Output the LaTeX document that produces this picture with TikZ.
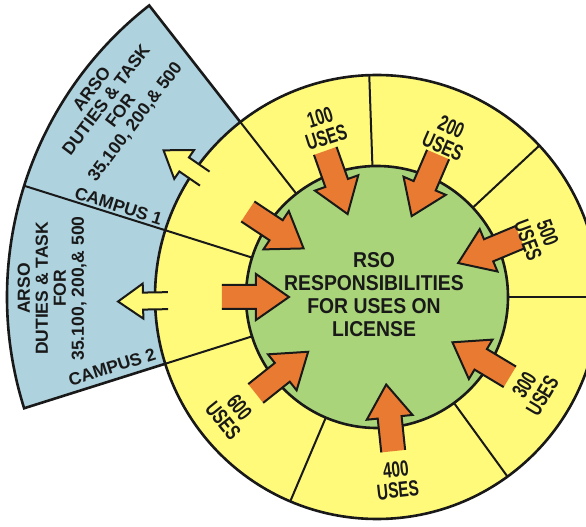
\documentclass[tikz,border=0pt]{standalone}
\usepackage{fontspec}
\setmainfont{Liberation Sans}
\newfontfamily\usesfont[FakeStretch=0.7]{Liberation Sans}
\newfontfamily\rsofont[FakeStretch=0.9]{Liberation Sans}
\definecolor{arsoblue}{RGB}{174,210,222}
\definecolor{ringyellow}{RGB}{255,250,122}
\definecolor{rsogreen}{RGB}{170,212,122}
\definecolor{usesorange}{RGB}{232,122,50}
\definecolor{inkblack}{RGB}{25,25,25}
\begin{document}
\begin{tikzpicture}[x=1pt,y=1pt,
    edge/.style={draw=inkblack, line width=2.6pt},
    divider/.style={draw=inkblack, line width=2pt},
    arrowline/.style={draw=inkblack, line width=2pt, line join=miter},
    useslabel/.style={font=\usesfont\fontsize{22}{21}\selectfont\bfseries, align=center, text=inkblack, inner sep=0pt},
    arsolabel/.style={font=\fontsize{17.5}{18}\selectfont\bfseries, align=center, text=inkblack, inner sep=0pt},
    campuslabel/.style={font=\fontsize{17.5}{17.5}\selectfont\bfseries, text=inkblack, inner sep=0pt},
    rsolabel/.style={font=\rsofont\fontsize{21.5}{23}\selectfont\bfseries, align=center, text=inkblack}]
  \useasboundingbox (-377,-230) rectangle (209,297);
  \clip (-377,-230) rectangle (209,297);

  % campus sectors
  \filldraw[fill=arsoblue, edge] (0,0) -- (128:370) arc[start angle=128, end angle=197.5, radius=370] -- cycle;
  \draw[divider] (0,0) -- (162.5:370);

  % ring of uses
  \filldraw[fill=ringyellow, edge] (0,0) circle[radius=222];
  \foreach \ang in {128,92,43,0,-54,-113,-162.5,162.5}
    \draw[divider] (\ang:131) -- (\ang:222);
  \filldraw[fill=rsogreen, edge] (0,0) circle[radius=131];

  % arrows out to the campuses
  \foreach \ang in {145.5,181}
    \filldraw[fill=ringyellow, arrowline, rotate=\ang]
      (209,8.5) -- (234,8.5) -- (234,17.5) -- (259,0) -- (234,-17.5) -- (234,-8.5) -- (209,-8.5);

  % arrows in to the RSO
  \foreach \ang in {109.5,66.8,22.7,-31,-84,218.5,180,146.5}
    \filldraw[fill=usesorange, arrowline, rotate=\ang]
      (155,12) -- (121,12) -- (121,23) -- (88,0) -- (121,-23) -- (121,-12) -- (155,-12);

  % labels
  \node[useslabel, rotate=17.6] (uses100) at (107.6:178) {100\\USES};
  \node[useslabel, rotate=-23.6] (uses200) at (66.4:175) {200\\USES};
  \node[useslabel, rotate=-69.4] (uses500) at (20.6:172) {500\\USES};
  \node[useslabel, rotate=59.2] (uses300) at (-30.8:182) {300\\USES};
  \node[useslabel, rotate=6.2] (uses400) at (-83.8:184) {400\\USES};
  \node[useslabel, rotate=-51.2] (uses600) at (218.8:187) {600\\USES};

  \node[arsolabel, rotate=53] (arso1) at (144:325) {ARSO\\DUTIES \& TASK\\FOR\\35.100, 200,\& 500};
  \node[arsolabel, rotate=90] (arso2) at (178.5:325) {ARSO\\DUTIES \& TASK\\FOR\\35.100, 200,\& 500};
  \node[campuslabel, rotate=-17.5] (campus1) at (160.6:274) {CAMPUS 1};
  \node[campuslabel, rotate=17.5] (campus2) at (194.8:274) {CAMPUS 2};

  \node[rsolabel] (rso) at (-3,2) {RSO\\RESPONSIBILITIES\\FOR USES ON\\LICENSE};
\end{tikzpicture}
\end{document}
